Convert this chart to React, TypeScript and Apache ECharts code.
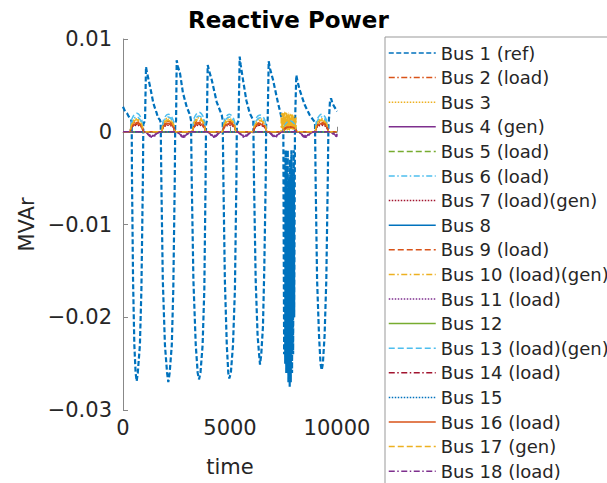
import React, { useEffect, useRef } from "react";
import * as echarts from "echarts";

// ---------- data ----------
const busNames = [
  "Bus 1 (ref)", "Bus 2 (load)", "Bus 3", "Bus 4 (gen)", "Bus 5 (load)", "Bus 6 (load)",
  "Bus 7 (load)(gen)", "Bus 8", "Bus 9 (load)", "Bus 10 (load)(gen)", "Bus 11 (load)", "Bus 12",
  "Bus 13 (load)(gen)", "Bus 14 (load)", "Bus 15", "Bus 16 (load)", "Bus 17 (gen)", "Bus 18 (load)",
];

const xTicks = [0, 5000, 10000];
const yTicks = [-0.03, -0.02, -0.01, 0, 0.01];

// Bus 1 (ref): [time, MVAr]
const bus1Points: [number, number][] = [
  [0, 0.0027], [93, 0.0022], [187, 0.002], [280, 0.0016], [374, 0.0013],
  [407, 0.001], [420, -0.005], [470, -0.016], [530, -0.023], [590, -0.026], [640, -0.0269], [690, -0.026], [790, -0.023], [860, -0.017], [930, -0.005], [950, 0.0008], [1030, 0.0012],
  [1075, 0.007], [1120, 0.0064], [1262, 0.0049], [1340, 0.004], [1416, 0.0031], [1500, 0.0025], [1575, 0.002], [1636, 0.0015], [1720, 0.0013],
  [1762, 0.001], [1790, -0.005], [1860, -0.016], [1960, -0.023], [2060, -0.026], [2117, -0.027], [2180, -0.026], [2280, -0.023], [2350, -0.017], [2420, -0.005], [2440, 0.0008], [2480, 0.0012],
  [2509, 0.0077], [2570, 0.007], [2664, 0.0063], [2800, 0.0042], [2975, 0.0027], [3130, 0.0018],
  [3178, 0.0012], [3210, -0.005], [3290, -0.016], [3400, -0.023], [3490, -0.026], [3551, -0.0267], [3620, -0.026], [3720, -0.023], [3800, -0.017], [3860, -0.005], [3880, 0.0008], [3920, 0.0012],
  [3958, 0.0072], [4020, 0.0066], [4145, 0.0056], [4380, 0.0032], [4614, 0.0018],
  [4659, 0.0012], [4690, -0.005], [4760, -0.016], [4850, -0.023], [4920, -0.026], [4967, -0.0266], [5040, -0.026], [5140, -0.023], [5230, -0.017], [5300, -0.005], [5320, 0.0008], [5400, 0.0012],
  [5453, 0.0081], [5500, 0.0072], [5608, 0.0056], [5762, 0.0034], [5921, 0.002], [6029, 0.0015],
  [6089, 0.0012], [6120, -0.005], [6200, -0.016], [6290, -0.022], [6360, -0.024], [6402, -0.0251], [6460, -0.024], [6540, -0.021], [6600, -0.015], [6670, -0.005], [6690, 0.0008], [6760, 0.0012],
  [6808, 0.0076], [6870, 0.0068], [7010, 0.0056], [7244, 0.0031], [7400, 0.0016],
  [7491, 0.001], [7510, -0.012], [7530, -0.024], [7550, -0.003], [7580, -0.025], [7600, -0.002], [7630, -0.026], [7650, -0.004], [7680, -0.026], [7700, -0.002], [7730, -0.027], [7760, -0.005], [7790, -0.0275], [7810, -0.003], [7840, -0.027], [7870, -0.002], [7900, -0.026], [7920, -0.004], [7950, -0.024], [7980, -0.002], [8000, -0.02], [8037, 0.0008],
  [8098, 0.0061], [8150, 0.0055], [8256, 0.0045], [8490, 0.0029], [8724, 0.0018], [8850, 0.0014],
  [8972, 0.001], [9000, -0.005], [9070, -0.016], [9160, -0.022], [9230, -0.025], [9285, -0.0257], [9340, -0.025], [9420, -0.022], [9500, -0.016], [9570, -0.005], [9600, 0.0008], [9620, 0.0012],
  [9673, 0.0033], [9720, 0.0036], [9800, 0.003], [9900, 0.0026], [10000, 0.0022],
];

// shared time grid for the small buses
const arcTime = [
  0,
  290, 420, 640, 860, 990, 1340,
  1767, 1897, 2117, 2337, 2467, 2817,
  3201, 3331, 3551, 3771, 3901, 4251,
  4617, 4747, 4967, 5187, 5317, 5667,
  6052, 6182, 6402, 6622, 6752, 7102,
  7454, 7584, 7804, 8024, 8154, 8504,
  8935, 9065, 9285, 9505, 9635, 9985,
  10000,
];

// values in units of 1e-4 MVAr
const bus2 = [0, 0, 8, 11, 8, 0, 0, 0, 8, 11, 8, 0, 0, 0, 8, 12, 8, 0, 0, 0, 8, 11, 8, 0, 0, 0, 7, 10, 7, 0, 0, 0, 5, 7, 5, 0, 0, 0, 8, 11, 8, 0, 0, 0];
const bus3 = [0, 0, 10, 14, 10, 0, 0, 0, 10, 15, 10, 0, 0, 0, 11, 15, 11, 0, 0, 0, 10, 14, 10, 0, 0, 0, 10, 14, 10, 0, 0, 0, 6, 9, 6, 0, 0, 0, 10, 14, 10, 0, 0, 0];
const bus4 = [0, 0, 0, 0, 0, 0, -5, 0, 0, 0, 0, 0, -5, 0, 0, 0, 0, 0, -5, 0, 0, 0, 0, 0, -5, 0, 0, 0, 0, 0, -5, 0, 0, 0, 0, 0, -5, 0, 0, 0, 0, 0, -4, -3];
const bus5 = [0, 0];
const bus6 = [0, 0, 11, 16, 11, 0, 0, 0, 11, 16, 11, 0, 0, 0, 12, 17, 12, 0, 0, 0, 11, 16, 11, 0, 0, 0, 10, 15, 10, 0, 0, 0, 7, 10, 7, 0, 0, 0, 11, 16, 11, 0, 0, 0];
const bus7 = [0, 0, 5, 7, 5, 0, 0, 0, 5, 7, 5, 0, 0, 0, 5, 7, 5, 0, 0, 0, 5, 7, 5, 0, 0, 0, 5, 7, 5, 0, 0, 0, 3, 4, 3, 0, 0, 0, 5, 7, 5, 0, 0, 0];
const bus8 = [0, 0];
const bus9 = [0, 0, 7, 10, 7, 0, 0, 0, 7, 10, 7, 0, 0, 0, 7, 10, 7, 0, 0, 0, 7, 10, 7, 0, 0, 0, 6, 9, 6, 0, 0, 0, 4, 6, 4, 0, 0, 0, 7, 10, 7, 0, 0, 0];
const bus11 = [0, 0, 0, 0, 0, 0, -4, 0, 0, 0, 0, 0, -4, 0, 0, 0, 0, 0, -4, 0, 0, 0, 0, 0, -4, 0, 0, 0, 0, 0, -4, 0, 0, 0, 0, 0, -4, 0, 0, 0, 0, 0, -3, -2];
const bus12 = [0, 0];
const bus13 = [0, 0, 14, 20, 14, 0, 0, 0, 13, 19, 13, 0, 0, 0, 15, 21, 15, 0, 0, 0, 13, 19, 13, 0, 0, 0, 13, 18, 13, 0, 0, 0, 8, 12, 8, 0, 0, 0, 13, 19, 13, 0, 0, 0];
const bus14 = [0, 0, 6, 8, 6, 0, 0, 0, 6, 8, 6, 0, 0, 0, 6, 8, 6, 0, 0, 0, 6, 8, 6, 0, 0, 0, 5, 7, 5, 0, 0, 0, 4, 5, 4, 0, 0, 0, 6, 8, 6, 0, 0, 0];
const bus15 = [0, 0];
const bus16 = [0, 0, 6, 9, 6, 0, 0, 0, 6, 9, 6, 0, 0, 0, 6, 9, 6, 0, 0, 0, 6, 9, 6, 0, 0, 0, 6, 8, 6, 0, 0, 0, 4, 5, 4, 0, 0, 0, 6, 9, 6, 0, 0, 0];
const bus17 = [0, 0, 9, 13, 9, 0, 0, 0, 9, 13, 9, 0, 0, 0, 10, 14, 10, 0, 0, 0, 9, 13, 9, 0, 0, 0, 8, 12, 8, 0, 0, 0, 6, 9, 6, 0, 0, 0, 9, 13, 9, 0, 0, 0];
const bus18 = [0, 0, 0, 0, 0, 0, -6, 0, 0, 0, 0, 0, -6, 0, 0, 0, 0, 0, -6, 0, 0, 0, 0, 0, -6, 0, 0, 0, 0, 0, -6, 0, 0, 0, 0, 0, -6, 0, 0, 0, 0, 0, -5, -4];
const flatTime = [0, 10000];

// Bus 10: [time, value in 1e-4 MVAr]
const bus10Points: [number, number][] = [
  [0, 0], [290, 0], [420, 8], [640, 12], [860, 8], [990, 0],
  [1767, 0], [1897, 8], [2117, 12], [2337, 8], [2467, 0],
  [3201, 0], [3331, 9], [3551, 13], [3771, 9], [3901, 0],
  [4617, 0], [4747, 8], [4967, 12], [5187, 8], [5317, 0],
  [6052, 0], [6182, 8], [6402, 12], [6622, 8], [6752, 0],
  [7380, 0], [7400, 19], [7420, 3], [7440, 20], [7460, 2], [7480, 21], [7500, 3], [7520, 20], [7540, 2], [7560, 21], [7580, 4], [7600, 20],
  [7620, 2], [7640, 20], [7660, 3], [7680, 19], [7700, 2], [7720, 20], [7740, 3], [7760, 19], [7780, 2], [7800, 19], [7820, 3], [7840, 18],
  [7860, 2], [7880, 18], [7900, 3], [7920, 18], [7940, 2], [7960, 17], [7980, 3], [8000, 17], [8020, 4], [8040, 16], [8060, 3], [8080, 15], [8100, 0],
  [8935, 0], [9065, 8], [9285, 12], [9505, 8], [9635, 0], [10000, 0],
];

// ---------- styles ----------
const COLORS = ["#0072BD", "#D95319", "#EDB120", "#7E2F8E", "#77AC30", "#4DBEEE", "#A2142F"];
const DASHES: any[] = [[6, 3], [6, 2.5, 1.5, 2.5], [1.5, 1.5], "solid"];
const FONT = "DejaVu Sans";

function fmtY(v: number) {
  const r = Math.round(v * 1000) / 1000;
  if (r === 0) return "0";
  const s = Math.abs(r).toString();
  return r < 0 ? "\u2212" + s : s;
}
function fmtX(v: number) {
  return String(Math.round(v));
}

function buildData(): [number, number][][] {
  const fromArc = (vals: number[]) =>
    vals.length === 2
      ? flatTime.map((t, i) => [t, vals[i] * 1e-4] as [number, number])
      : arcTime.map((t, i) => [t, vals[i] * 1e-4] as [number, number]);
  return [
    bus1Points,
    fromArc(bus2), fromArc(bus3), fromArc(bus4), fromArc(bus5), fromArc(bus6),
    fromArc(bus7), fromArc(bus8), fromArc(bus9),
    bus10Points.map(([t, v]) => [t, v * 1e-4] as [number, number]),
    fromArc(bus11), fromArc(bus12), fromArc(bus13), fromArc(bus14), fromArc(bus15),
    fromArc(bus16), fromArc(bus17), fromArc(bus18),
  ];
}

export default function App() {
  const ref = useRef<HTMLDivElement>(null);
  useEffect(() => {
    document.body.style.margin = "0";
    document.body.style.overflow = "hidden";
    const chart = echarts.init(ref.current!, undefined, { renderer: "svg" });
    const data = buildData();
    const series = busNames.map((name, i) => ({
      name,
      type: "line",
      data: data[i],
      symbol: "none",
      showSymbol: false,
      smooth: i === 0 ? false : 0.4,
      silent: true,
      lineStyle: { color: COLORS[i % 7], width: i === 0 ? 2.2 : 1.5, type: i === 0 ? [5, 2.5] : DASHES[i % 4] },
      itemStyle: { color: COLORS[i % 7] },
    }));
    chart.setOption({
      animation: false,
      backgroundColor: "#fff",
      title: {
        text: "Reactive Power",
        left: 188,
        top: 8,
        padding: 0,
        textStyle: { fontFamily: FONT, fontSize: 23, fontWeight: "bold", color: "#000" },
      },
      legend: {
        orient: "vertical",
        left: 385,
        top: 37,
        height: 470,
        padding: [6, 30, 6, 3],
        itemWidth: 47,
        itemHeight: 20,
        itemGap: 4.6,
        selectedMode: false,
        borderColor: "#999",
        borderWidth: 1,
        itemStyle: { opacity: 0, borderWidth: 0 },
        lineStyle: { width: 1.5 },
        textStyle: { fontFamily: FONT, fontSize: 18, color: "#262626", lineHeight: 20 },
        data: busNames,
      },
      grid: { left: 123, top: 39, width: 214, height: 371, containLabel: false },
      xAxis: {
        type: "value",
        min: xTicks[0],
        max: xTicks[xTicks.length - 1],
        interval: xTicks[1] - xTicks[0],
        name: "time",
        nameLocation: "middle",
        nameGap: 46,
        nameTextStyle: { fontFamily: FONT, fontSize: 21, color: "#262626" },
        axisLine: { show: true, lineStyle: { color: "#888", width: 1 } },
        axisTick: { show: true, inside: true, length: 5, lineStyle: { color: "#888" } },
        axisLabel: { fontFamily: FONT, fontSize: 21, color: "#262626", margin: 7, formatter: fmtX },
        splitLine: { show: false },
      },
      yAxis: {
        type: "value",
        min: yTicks[0],
        max: yTicks[yTicks.length - 1],
        interval: 0.01,
        name: "MVAr",
        nameLocation: "middle",
        nameGap: 86,
        nameTextStyle: { fontFamily: FONT, fontSize: 21, color: "#262626" },
        axisLine: { show: true, lineStyle: { color: "#888", width: 1 } },
        axisTick: { show: true, inside: true, length: 5, lineStyle: { color: "#888" } },
        axisLabel: { fontFamily: FONT, fontSize: 21, color: "#262626", margin: 11, formatter: fmtY },
        splitLine: { show: false },
      },
      series,
    });
    return () => chart.dispose();
  }, []);
  return <div ref={ref} style={{ width: 607, height: 483 }} />;
}
